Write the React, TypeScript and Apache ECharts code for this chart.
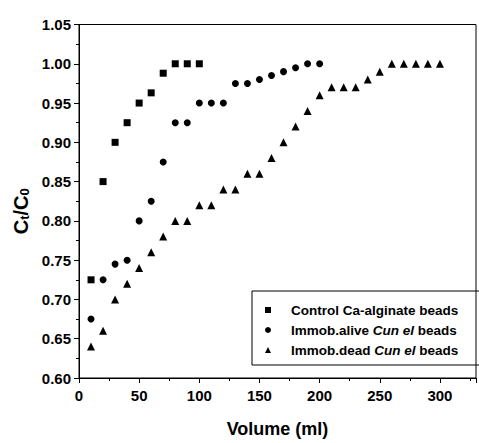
import React, { useEffect, useRef } from "react";
import * as echarts from "echarts";

const controlVolume = [10, 20, 30, 40, 50, 60, 70, 80, 90, 100];
const controlRatio = [0.725, 0.85, 0.9, 0.925, 0.95, 0.963, 0.988, 1.0, 1.0, 1.0];

const aliveVolume = [10, 20, 30, 40, 50, 60, 70, 80, 90, 100, 110, 120, 130, 140, 150, 160, 170, 180, 190, 200];
const aliveRatio = [0.675, 0.725, 0.745, 0.75, 0.8, 0.825, 0.875, 0.925, 0.925, 0.95, 0.95, 0.95, 0.975, 0.975, 0.98, 0.985, 0.99, 0.995, 1.0, 1.0];

const deadVolume = [10, 20, 30, 40, 50, 60, 70, 80, 90, 100, 110, 120, 130, 140, 150, 160, 170, 180, 190, 200, 210, 220, 230, 240, 250, 260, 270, 280, 290, 300];
const deadRatio = [0.64, 0.66, 0.7, 0.72, 0.74, 0.76, 0.78, 0.8, 0.8, 0.82, 0.82, 0.84, 0.84, 0.86, 0.86, 0.88, 0.9, 0.92, 0.94, 0.96, 0.97, 0.97, 0.97, 0.98, 0.99, 1.0, 1.0, 1.0, 1.0, 1.0];

const seriesNames = ["Control Ca-alginate beads", "Immob.alive Cun el beads", "Immob.dead Cun el beads"];

const FONT = "'Liberation Sans', Arial, sans-serif";

const pairs = (xs: number[], ys: number[]) => xs.map((x, i) => [x, ys[i]]);

export default function App() {
  const ref = useRef<HTMLDivElement>(null);
  useEffect(() => {
    if (!ref.current) return;
    const chart = echarts.init(ref.current, undefined, { renderer: "svg" });
    const symStyle = { color: "#000", opacity: 1 };
    chart.setOption({
      animation: false,
      backgroundColor: "#fff",
      grid: {
        left: 79,
        top: 24.5,
        bottom: 63,
        right: -2.6,
        show: true,
        borderColor: "#000",
        borderWidth: 1,
      },
      legend: {
        left: 252,
        top: 291,
        orient: "vertical",
        borderColor: "#000",
        borderWidth: 1,
        padding: [11, 22, 7, 13],
        itemWidth: 6,
        itemHeight: 6,
        itemGap: 4,
        data: seriesNames,
        formatter: (name: string) => name.replace("Cun el", "{i|Cun el}"),
        textStyle: {
          fontFamily: FONT,
          fontWeight: "bold",
          fontSize: 13.5,
          color: "#000",
          lineHeight: 16,
          padding: [0, 0, 0, 15],
          rich: {
            i: { fontFamily: FONT, fontWeight: "bold", fontStyle: "italic", fontSize: 13.5, color: "#000", lineHeight: 16 },
          },
        },
      },
      xAxis: [
        {
          type: "value",
          min: 0,
          max: 330,
          interval: 50,
          name: "Volume (ml)",
          nameLocation: "middle",
          nameGap: 42,
          nameTextStyle: { fontFamily: FONT, fontWeight: "bold", fontSize: 18, color: "#000" },
          axisLine: { show: true, lineStyle: { color: "#000", width: 1 } },
          axisTick: { show: true, length: 5, lineStyle: { color: "#000" } },
          axisLabel: {
            margin: 10,
            fontFamily: FONT,
            fontWeight: "bold",
            fontSize: 15,
            color: "#000",
            formatter: (v: number) => (v % 50 === 0 ? String(v) : ""),
          },
          splitLine: { show: false },
        },
        {
          type: "value",
          min: 0,
          max: 330,
          interval: 25,
          position: "bottom",
          axisLine: { show: false },
          axisTick: { show: true, length: 3, lineStyle: { color: "#000" } },
          axisLabel: { show: false },
          splitLine: { show: false },
        },
      ],
      yAxis: {
        type: "value",
        min: 0.6,
        max: 1.05,
        interval: 0.05,
        name: "{c|C}{s|t}{c|/C}{s|0}",
        nameLocation: "middle",
        nameRotate: 90,
        nameGap: 45,
        nameTextStyle: {
          padding: [0, 20, 0, 0],
          rich: {
            c: { fontFamily: FONT, fontWeight: "bold", fontSize: 20, color: "#000", lineHeight: 20 },
            s: { fontFamily: FONT, fontWeight: "bold", fontSize: 13, color: "#000", lineHeight: 5, verticalAlign: "bottom" },
          },
        },
        axisLine: { show: true, lineStyle: { color: "#000", width: 1 } },
        axisTick: { show: true, length: 5, lineStyle: { color: "#000" } },
        minorTick: { show: true, splitNumber: 2, length: 3, lineStyle: { color: "#000" } },
        axisLabel: {
          margin: 8,
          fontFamily: FONT,
          fontWeight: "bold",
          fontSize: 15,
          color: "#000",
          formatter: (v: number) => v.toFixed(2),
        },
        splitLine: { show: false },
      },
      series: [
        {
          name: seriesNames[0],
          type: "scatter",
          symbol: "rect",
          symbolSize: 7,
          itemStyle: symStyle,
          data: pairs(controlVolume, controlRatio),
        },
        {
          name: seriesNames[1],
          type: "scatter",
          symbol: "circle",
          symbolSize: 7,
          itemStyle: symStyle,
          data: pairs(aliveVolume, aliveRatio),
        },
        {
          name: seriesNames[2],
          type: "scatter",
          symbol: "triangle",
          symbolSize: 8,
          itemStyle: symStyle,
          data: pairs(deadVolume, deadRatio),
        },
      ],
    });
    return () => chart.dispose();
  }, []);
  return (
    <div
      ref={ref}
      style={{ position: "absolute", left: 0, top: 0, width: 479, height: 443 }}
    />
  );
}
